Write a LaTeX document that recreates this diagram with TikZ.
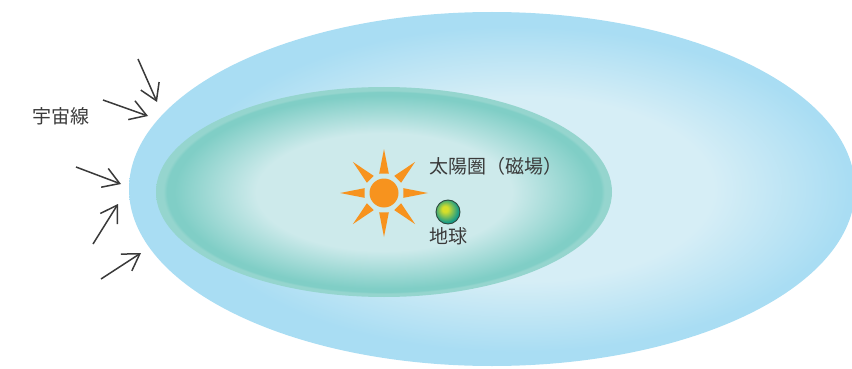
\documentclass[tikz,border=0pt]{standalone}
\usepackage{fontspec}
\newfontfamily\jpfont{Noto Sans CJK JP}
\usepackage{xcolor}
\usepackage{tikz}
\usetikzlibrary{positioning, arrows.meta, shapes.geometric, calc}

\definecolor{skydeep}{HTML}{A9DDF3}
\definecolor{skylight}{HTML}{D6EEF6}
\definecolor{seadeep}{HTML}{80CEC6}
\definecolor{seaedge}{HTML}{95D5CE}
\definecolor{sealight}{HTML}{CDEAEB}
\definecolor{sunorange}{HTML}{F7931E}
\definecolor{earthlight}{HTML}{D6DF2A}
\definecolor{earthdark}{HTML}{179B87}
\definecolor{earthrim}{HTML}{2E4A3C}
\definecolor{inkgray}{HTML}{3A3A3A}

% the path fills the 25bp radius, the rest is padding
\pgfdeclareradialshading{outerglow}{\pgfpoint{3bp}{0bp}}{color(0bp)=(skylight); color(13bp)=(skylight); color(23bp)=(skydeep); color(50bp)=(skydeep)}
\pgfdeclareradialshading{innerglow}{\pgfpoint{0bp}{0bp}}{color(0bp)=(sealight); color(14bp)=(sealight); color(23bp)=(seadeep); color(23.8bp)=(seadeep); color(24.2bp)=(seaedge); color(50bp)=(seaedge)}
\pgfdeclareradialshading{earthball}{\pgfpoint{-7bp}{7bp}}{color(0bp)=(earthlight); color(6bp)=(earthlight); color(25bp)=(earthdark); color(50bp)=(earthdark)}

\begin{document}
\begin{tikzpicture}[x=1pt, y=-1pt]
        \tikzstyle{lbl} = [text=inkgray, inner sep=2pt, font=\jpfont\fontsize{19}{22}\selectfont]
        \tikzstyle{cosmic} = [draw=inkgray, line width=1.5pt, -{Straight Barb[length=16pt,width=20pt]}]
        \tikzstyle{sunray} = [fill=sunorange]

        \useasboundingbox (0,0) rectangle (852,369);
        \clip (0,0) rectangle (852,369);

        \node [ellipse, shade, shading=outerglow, minimum width=726pt, minimum height=354pt, inner sep=0pt] (sheath) at (492,189) {};
        \node [ellipse, shade, shading=innerglow, minimum width=456pt, minimum height=210pt, inner sep=0pt] (helio) at (384,192) {};

        \node [circle, fill=sunorange, minimum size=29pt, inner sep=0pt] (sun) at (384,193) {};
        \foreach \a in {0,45,...,315}
            \fill [sunray] ($(sun)+(\a:44)$) -- ($(sun)+(\a+14:20)$) -- ($(sun)+(\a-14:20)$) -- cycle;

        \node [circle, shade, shading=earthball, draw=earthrim, line width=0.9pt, minimum size=24pt, inner sep=0pt] (earth) at (448,212) {};

        \node [lbl, anchor=west] (helioname) at (427,166) {太陽圏（磁場）};
        \node [lbl, below=1pt of earth] (earthname) {地球};
        \node [lbl] (raysname) at (61,116) {宇宙線};

        \coordinate (cr1a) at (138,59);
        \coordinate (cr1b) at (157,102);
        \coordinate (cr2a) at (103,100);
        \coordinate (cr2b) at (148,116);
        \coordinate (cr3a) at (76,167);
        \coordinate (cr3b) at (121,184);
        \coordinate (cr4a) at (93,244);
        \coordinate (cr4b) at (118,204);
        \coordinate (cr5a) at (101,279);
        \coordinate (cr5b) at (141,253);

        \draw [cosmic] (cr1a) -- (cr1b);
        \draw [cosmic] (cr2a) -- (cr2b);
        \draw [cosmic] (cr3a) -- (cr3b);
        \draw [cosmic] (cr4a) -- (cr4b);
        \draw [cosmic] (cr5a) -- (cr5b);
    \end{tikzpicture}
\end{document}
